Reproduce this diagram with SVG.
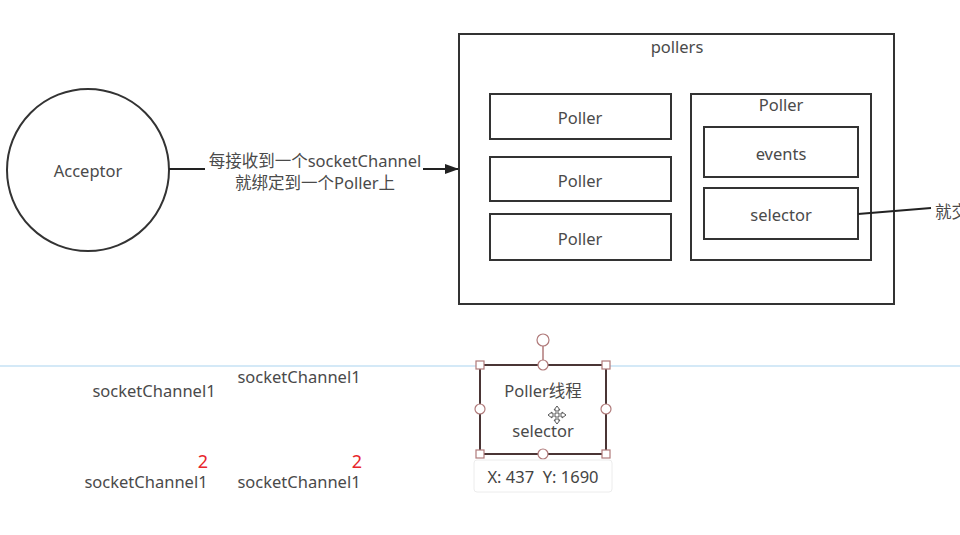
<svg xmlns="http://www.w3.org/2000/svg" width="960" height="535" viewBox="0 0 960 535">
<defs>
<style>
.box{fill:#fff;stroke:#333;stroke-width:2}
.t{font-family:"Noto Sans","Noto Sans CJK SC",sans-serif;font-size:16.5px;fill:#4a4a4a;text-anchor:middle;dominant-baseline:central}
.red{fill:#e8262b}
.conn{stroke:#222;stroke-width:2;fill:none}
.hs{fill:#fff;stroke:#b07a7a;stroke-width:1.2}
</style>
<marker id="arr" markerWidth="14" markerHeight="12" refX="13" refY="6" orient="auto" markerUnits="userSpaceOnUse">
<path d="M0,1 L14,6 L0,11 Z" fill="#222"/>
</marker>
</defs>
<rect width="960" height="535" fill="#fff"/>

<g id="acceptor">
<circle cx="88" cy="170" r="81" class="box"/>
<text x="88" y="170" class="t">Acceptor</text>
</g>

<g id="pollers">
<rect x="459" y="34" width="435" height="270" class="box"/>
<text x="677" y="46" class="t">pollers</text>
</g>
<g id="poller1"><rect x="490" y="94" width="181" height="45" class="box"/><text x="580" y="117" class="t">Poller</text></g>
<g id="poller2"><rect x="490" y="157" width="181" height="44" class="box"/><text x="580" y="180" class="t">Poller</text></g>
<g id="poller3"><rect x="490" y="214" width="181" height="46" class="box"/><text x="580" y="238" class="t">Poller</text></g>
<g id="poller4"><rect x="691" y="94" width="180" height="166" class="box"/><text x="781" y="104" class="t">Poller</text></g>
<g id="events"><rect x="704" y="127" width="154" height="50" class="box"/><text x="781" y="153" class="t">events</text></g>
<g id="selector"><rect x="704" y="188" width="154" height="51" class="box"/><text x="781" y="214" class="t">selector</text></g>

<g id="connectors">
<line x1="169" y1="169" x2="458" y2="169" class="conn" marker-end="url(#arr)"/>
<line x1="858" y1="214" x2="931" y2="208" class="conn"/>
</g>

<g id="label">
<rect x="205" y="150" width="218" height="42" fill="#fff"/>
<text x="315" y="160" class="t">每接收到一个socketChannel</text>
<text x="315" y="182" class="t">就绑定到一个Poller上</text>
</g>
<text x="935" y="211" class="t" style="text-anchor:start">就交</text>

<line x1="0" y1="366" x2="960" y2="366" stroke="#a9d3ef" stroke-width="1"/>

<g id="texts">
<text x="154" y="390" class="t">socketChannel1</text>
<text x="299" y="376" class="t">socketChannel1</text>
<text x="146" y="481" class="t">socketChannel1</text>
<text x="299" y="481" class="t">socketChannel1</text>
<text x="203" y="461" class="t red" style="font-size:18px">2</text>
<text x="357" y="461" class="t red" style="font-size:18px">2</text>
</g>

<g id="poller-thread">
<line x1="543" y1="346" x2="543" y2="365" stroke="#b07a7a" stroke-width="1.5"/>
<rect x="480" y="365" width="126" height="89" fill="#fff" stroke="#4a3535" stroke-width="2"/>
<text x="543" y="390" class="t">Poller线程</text>
<text x="543" y="430" class="t">selector</text>
<circle cx="543" cy="340" r="6" class="hs"/>
<rect x="476" y="361" width="8" height="8" class="hs"/>
<rect x="602" y="361" width="8" height="8" class="hs"/>
<rect x="476" y="450" width="8" height="8" class="hs"/>
<rect x="602" y="450" width="8" height="8" class="hs"/>
<circle cx="543" cy="365" r="5" class="hs"/>
<circle cx="543" cy="454" r="5" class="hs"/>
<circle cx="480" cy="409" r="5" class="hs"/>
<circle cx="606" cy="409" r="5" class="hs"/>
<g stroke="#555" stroke-width="1" fill="#fff">
<path d="M557,406 l-3,4 h2 v4 h-4 v-2 l-4,3 l4,3 v-2 h4 v4 h-2 l3,4 l3,-4 h-2 v-4 h4 v2 l4,-3 l-4,-3 v2 h-4 v-4 h2 z"/>
</g>
</g>

<g id="tooltip">
<rect x="474" y="460" width="138" height="32" rx="3" fill="#fff" stroke="#ececec"/>
<text x="543" y="476" class="t" style="fill:#444" xml:space="preserve">X: 437  Y: 1690</text>
</g>
</svg>
